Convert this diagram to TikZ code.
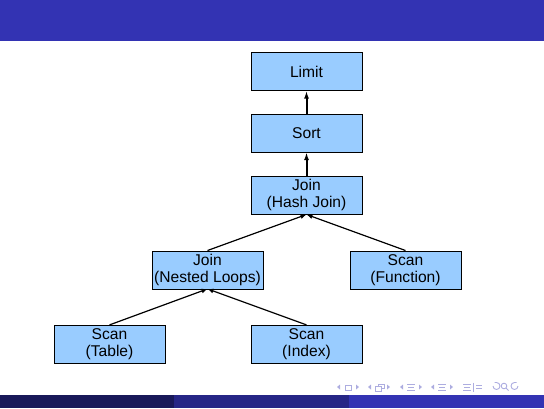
\documentclass[tikz,border=0pt]{standalone}
\usepackage{fontspec}
\setmainfont{Liberation Sans}
\usetikzlibrary{positioning, arrows.meta}

\definecolor{barblue}{HTML}{3333B3}
\definecolor{bardark}{HTML}{191959}
\definecolor{barmid}{HTML}{262686}
\definecolor{boxblue}{HTML}{99CCFF}
\definecolor{navcol}{HTML}{ADADE0}

\tikzset{
	plan/.style={draw, fill=boxblue, minimum width=111pt, minimum height=38pt, inner sep=0pt,
		align=center, font=\fontsize{15.6}{17}\selectfont},
	up/.style={-{Latex[length=8pt,width=5pt]}, line width=2pt},
	upthin/.style={-{Latex[length=6pt,width=5pt]}, line width=1.2pt},
	nav/.style={navcol, line width=0.9pt}
}

\begin{document}
\begin{tikzpicture}[x=1pt,y=-1pt]
		\useasboundingbox (0,0) rectangle (544,408);
		% slide bars
		\fill[barblue] (0,0) rectangle (544,41);
		\fill[bardark] (0,395) rectangle (174,408);
		\fill[barmid] (174,395) rectangle (349,408);
		\fill[barblue] (349,395) rectangle (544,408);

		\node[plan] (limit) at (306.5,71.5) {Limit};
		\node[plan, below=23pt of limit] (sort) {Sort};
		\node[plan, below=24pt of sort] (hash) {Join\\(Hash Join)};
		\node[plan, below=36pt of hash, xshift=-99pt] (nested) {Join\\(Nested Loops)};
		\node[plan, below=36pt of hash, xshift=99pt] (func) {Scan\\(Function)};
		\node[plan, below=36pt of nested, xshift=-98pt] (table) {Scan\\(Table)};
		\node[plan, below=36pt of nested, xshift=99pt] (index) {Scan\\(Index)};

		\draw[up] (sort) -- (limit);
		\draw[up] (hash) -- (sort);
		\draw[upthin] (nested.north) -- (hash.south);
		\draw[upthin] (func.north) -- (hash.south);
		\draw[upthin] (table.north) -- (nested.south);
		\draw[upthin] (index.north) -- (nested.south);

		% navigation symbols
		\foreach \c in {348,379,411,442} {
			\fill[navcol] (\c-11,387) -- ++(3,-2.5) -- ++(0,5) -- cycle;
			\fill[navcol] (\c+11,387) -- ++(-3,-2.5) -- ++(0,5) -- cycle;
		}
		\draw[nav] (345,385) rectangle (351,390);
		\draw[nav] (378,384) rectangle (384,388.5);
		\draw[nav, fill=white] (375.5,386) rectangle (381.5,391);
		\foreach \c in {411,442,467} {
			\draw[nav] (\c-4,384) -- (\c+4,384);
			\draw[nav] (\c-3,387) -- (\c+3,387);
			\draw[nav] (\c-4,390) -- (\c+4,390);
		}
		\draw[nav] (473,382.5) -- (473,391.5);
		\draw[nav] (476,385.5) -- (482,385.5) (476,388.5) -- (482,388.5);
		\draw[nav] (493,386) arc (180:-90:3.5) -- ++(-2,0);
		\draw[nav] (504,386) circle (2.8) (506,388) -- (508.5,390.5);
		\draw[nav] (518,386) arc (0:270:3.5) -- ++(2,0);
	\end{tikzpicture}
\end{document}
